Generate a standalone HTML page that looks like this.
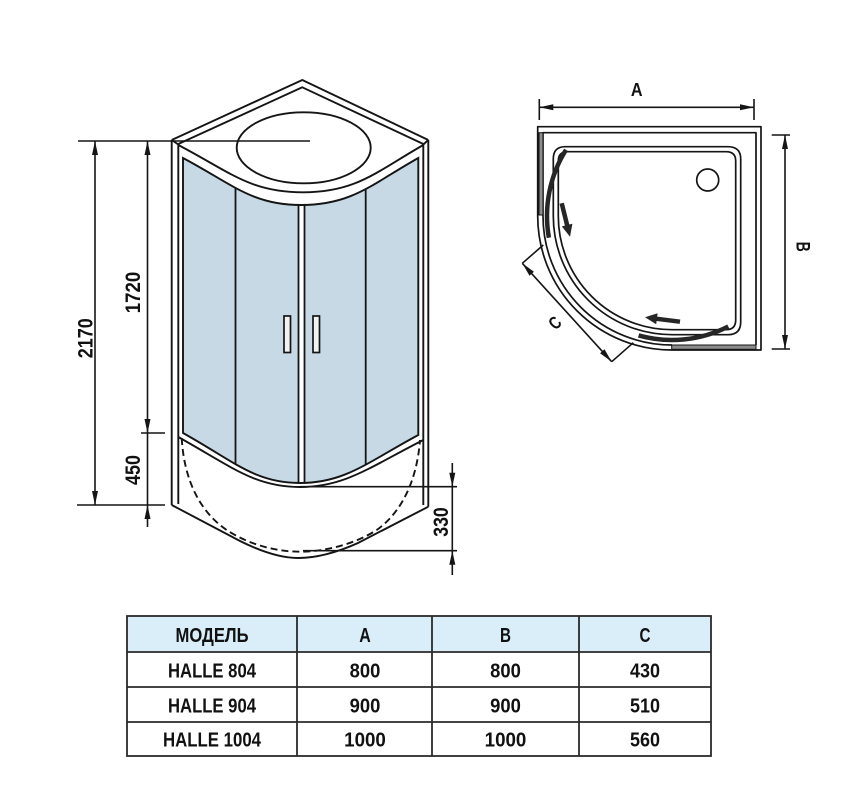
<!DOCTYPE html>
<html>
<head>
<meta charset="utf-8">
<style>
html,body{margin:0;padding:0;background:#fff;}
svg{display:block;}
text{font-family:"Liberation Sans",Arial,sans-serif;font-weight:bold;fill:#111;}
</style>
</head>
<body>
<svg width="867" height="790" viewBox="0 0 867 790" xmlns="http://www.w3.org/2000/svg">
<defs>
<clipPath id="glass">
<path d="M183,158 C232,184 252,205 301,205 C352,205 372,184 418.3,158 L418.3,435 C368,462 345,483 300,483 C255,483 235,462 183,433 Z"/>
</clipPath>
</defs>

<!-- ================= LEFT: cabin ================= -->
<g fill="none" stroke="#151515" stroke-width="1.9" stroke-linejoin="round">
  <path d="M171.7,140 L302.3,80 L428.3,140"/>
  <path d="M178.3,144 L302.3,87.3 L423.3,144"/>
  <path d="M171.7,140 L178.3,144.5 M428.3,140 L423.3,144.5"/>
  <path d="M171.7,140 L171.7,505"/>
  <path d="M178.3,144 L178.3,504"/>
  <path d="M428.3,140 L428.3,506.7"/>
  <path d="M423.3,144 L423.3,505"/>
  <path d="M178.3,145 C230,172 250,192.3 303,192.3 C356,192.3 376,172 423.3,145"/>
  <ellipse cx="303.7" cy="147.8" rx="67" ry="35.5"/>
</g>

<!-- glass -->
<path d="M183,158 C232,184 252,205 301,205 C352,205 372,184 418.3,158 L418.3,435 C368,462 345,483 300,483 C255,483 235,462 183,433 Z" fill="#c6d9e4"/>
<g clip-path="url(#glass)">
  <rect x="298.5" y="195" width="6" height="300" fill="#ffffff"/>
  <g stroke="#151515" stroke-width="1.8">
    <line x1="235.5" y1="150" x2="235.5" y2="495"/>
    <line x1="365.7" y1="150" x2="365.7" y2="495"/>
    <line x1="298.5" y1="150" x2="298.5" y2="495"/>
    <line x1="304.5" y1="150" x2="304.5" y2="495"/>
  </g>
</g>
<path d="M183,158 C232,184 252,205 301,205 C352,205 372,184 418.3,158 L418.3,435 C368,462 345,483 300,483 C255,483 235,462 183,433 Z" fill="none" stroke="#151515" stroke-width="1.9"/>

<!-- handles -->
<rect x="284" y="316" width="6.5" height="36.5" fill="#f2f2f2" stroke="#151515" stroke-width="1.7"/>
<rect x="313" y="316" width="6.5" height="36.5" fill="#f2f2f2" stroke="#151515" stroke-width="1.7"/>

<g fill="none" stroke="#151515" stroke-width="1.9">
  <path d="M178.3,437 C232,467 255,487 300,487 C345,487 370,467 423.3,440"/>
  <path d="M171.7,505 L240,541 C262,552 282,558 298,558 C318,558 338,552 358,543 L428.3,506.7"/>
  <path d="M181.7,438 C184,480 200,512 226.7,530 C248,544 275,551.7 300,551.7 C325,551.7 355,544 376.7,530 C402,512 417,480 420,440" stroke-dasharray="7,4" stroke-width="1.9"/>
</g>

<!-- dimension lines left -->
<g stroke="#151515" stroke-width="1.6" fill="none">
  <line x1="78" y1="141" x2="310" y2="141"/>
  <line x1="77" y1="505" x2="165" y2="505"/>
  <line x1="141" y1="433" x2="165" y2="433"/>
  <line x1="95" y1="141" x2="95" y2="505"/>
  <line x1="147.5" y1="141" x2="147.5" y2="527"/>
  <line x1="300" y1="486.7" x2="457" y2="486.7"/>
  <line x1="303" y1="550.7" x2="457" y2="550.7"/>
  <line x1="452.3" y1="463" x2="452.3" y2="575"/>
</g>
<g fill="#151515">
  <polygon points="95,141 92,155 98,155"/>
  <polygon points="95,505 92,491 98,491"/>
  <polygon points="147.5,141 144.5,155 150.5,155"/>
  <polygon points="147.5,433 144.5,419 150.5,419"/>
  <polygon points="147.5,505 144.5,519 150.5,519"/>
  <polygon points="452.3,486.7 449.3,472.7 455.3,472.7"/>
  <polygon points="452.3,550.7 449.3,564.7 455.3,564.7"/>
</g>

<text x="85" y="345.8" font-size="21" text-anchor="middle" textLength="40" lengthAdjust="spacingAndGlyphs" transform="rotate(-90 85 338.3)">2170</text>
<text x="132.5" y="300" font-size="21" text-anchor="middle" textLength="41.5" lengthAdjust="spacingAndGlyphs" transform="rotate(-90 132.5 292.5)">1720</text>
<text x="132.5" y="477.5" font-size="21" text-anchor="middle" textLength="30" lengthAdjust="spacingAndGlyphs" transform="rotate(-90 132.5 470)">450</text>
<text x="440.5" y="529.5" font-size="21" text-anchor="middle" textLength="29.5" lengthAdjust="spacingAndGlyphs" transform="rotate(-90 440.5 522)">330</text>

<!-- ================= RIGHT: top view ================= -->
<g fill="none" stroke="#151515" stroke-width="1.7" stroke-linejoin="round">
  <path d="M672,350 L761,350 L761,126.7 L537.7,126.7 L537.7,216 A134,134 0 0 0 672,350"/>
  <path d="M543,216 L543,132.7 L756,132.7 L756,345"/>
  <path d="M543,216 A129,129 0 0 0 672,345"/>
  <path d="M565,146.7 L728,146.7 Q740.7,146.7 740.7,159 L740.7,322 Q740.7,334.7 728,334.7 L672,334.7 A118.7,118.7 0 0 1 553.3,216 L553.3,159 Q553.3,146.7 565,146.7 Z"/>
  <path d="M568,151.7 L726,151.7 Q735.7,151.7 735.7,161 L735.7,320 Q735.7,329.7 726,329.7 L672,329.7 A113.7,113.7 0 0 1 558.3,216 L558.3,161 Q558.3,151.7 568,151.7 Z"/>
  <circle cx="707.7" cy="180" r="11"/>
</g>
<rect x="539" y="132.7" width="4" height="82.3" fill="#8c8c8c" stroke="#151515" stroke-width="1"/>
<rect x="671.7" y="345" width="84.3" height="4.3" fill="#8c8c8c" stroke="#151515" stroke-width="1"/>

<g fill="none" stroke="#262626" stroke-width="4.5" stroke-linecap="butt">
  <path d="M566,149.8 A125,125 0 0 0 548.9,237.7"/>
  <path d="M638.6,335.4 A124,124 0 0 0 728.3,326.5"/>
</g>
<g fill="#262626">
  <polygon points="559.5,203.8 564.9,225.6 561.8,226.4 570,236.7 572.4,223.7 569.3,224.5 563.9,202.8"/>
  <polygon points="680.3,319.5 657.2,316.6 657.6,313.3 645,317.3 656.2,324.3 656.6,321.0 679.7,323.9"/>
</g>

<g stroke="#151515" stroke-width="1.6" fill="none">
  <line x1="539.3" y1="107.3" x2="754" y2="107.3"/>
  <line x1="539.3" y1="99" x2="539.3" y2="120"/>
  <line x1="754" y1="99" x2="754" y2="120"/>
  <line x1="785" y1="135" x2="785" y2="349"/>
  <line x1="771.7" y1="135" x2="790" y2="135"/>
  <line x1="771.7" y1="349" x2="790" y2="349"/>
  <line x1="522.3" y1="263.3" x2="611.7" y2="361.7"/>
  <line x1="522.3" y1="263.3" x2="543.3" y2="245"/>
  <line x1="611.7" y1="361.7" x2="633.3" y2="342.7"/>
</g>
<g fill="#151515">
  <polygon points="539.3,107.3 553.3,104.3 553.3,110.3"/>
  <polygon points="754,107.3 740,104.3 740,110.3"/>
  <polygon points="785,135 782,149 788,149"/>
  <polygon points="785,349 782,335 788,335"/>
  <polygon points="522.3,263.3 529.5,275.7 533.9,271.7"/>
  <polygon points="611.7,361.7 600.1,353.3 604.5,349.3"/>
</g>
<text x="636.7" y="96" font-size="18" text-anchor="middle" textLength="11.7" lengthAdjust="spacingAndGlyphs">A</text>
<text x="801.7" y="252" font-size="19" text-anchor="middle" textLength="10" lengthAdjust="spacingAndGlyphs" transform="rotate(90 801.7 246.7)">B</text>
<text x="555" y="329" font-size="18" text-anchor="middle" textLength="10" lengthAdjust="spacingAndGlyphs" transform="rotate(-45 555 323)">C</text>

<!-- ================= TABLE ================= -->
<rect x="127" y="616" width="584" height="36" fill="#d9eef9"/>
<g stroke="#2a2a2a" stroke-width="1.8" fill="none">
  <rect x="127" y="616" width="584" height="140"/>
  <line x1="127" y1="652" x2="711" y2="652"/>
  <line x1="127" y1="687" x2="711" y2="687"/>
  <line x1="127" y1="722" x2="711" y2="722"/>
  <line x1="297" y1="616" x2="297" y2="756"/>
  <line x1="432" y1="616" x2="432" y2="756"/>
  <line x1="579" y1="616" x2="579" y2="756"/>
</g>
<g font-size="20" text-anchor="middle">
  <text x="212" y="642" textLength="73" lengthAdjust="spacingAndGlyphs">МОДЕЛЬ</text>
  <text x="365" y="642" textLength="11.5" lengthAdjust="spacingAndGlyphs">A</text>
  <text x="505.5" y="642" textLength="11" lengthAdjust="spacingAndGlyphs">B</text>
  <text x="645" y="642" textLength="11" lengthAdjust="spacingAndGlyphs">C</text>

  <text x="212" y="677.7" textLength="88" lengthAdjust="spacingAndGlyphs">HALLE 804</text>
  <text x="365" y="677.7" textLength="30.7" lengthAdjust="spacingAndGlyphs">800</text>
  <text x="505.5" y="677.7" textLength="30.7" lengthAdjust="spacingAndGlyphs">800</text>
  <text x="645" y="677.7" textLength="30" lengthAdjust="spacingAndGlyphs">430</text>

  <text x="212" y="712.3" textLength="88" lengthAdjust="spacingAndGlyphs">HALLE 904</text>
  <text x="365" y="712.3" textLength="30.7" lengthAdjust="spacingAndGlyphs">900</text>
  <text x="505.5" y="712.3" textLength="30.7" lengthAdjust="spacingAndGlyphs">900</text>
  <text x="645" y="712.3" textLength="30" lengthAdjust="spacingAndGlyphs">510</text>

  <text x="212" y="746.7" textLength="98" lengthAdjust="spacingAndGlyphs">HALLE 1004</text>
  <text x="365" y="746.7" textLength="41.7" lengthAdjust="spacingAndGlyphs">1000</text>
  <text x="505.5" y="746.7" textLength="41.7" lengthAdjust="spacingAndGlyphs">1000</text>
  <text x="645" y="746.7" textLength="30" lengthAdjust="spacingAndGlyphs">560</text>
</g>
</svg>
</body>
</html>
